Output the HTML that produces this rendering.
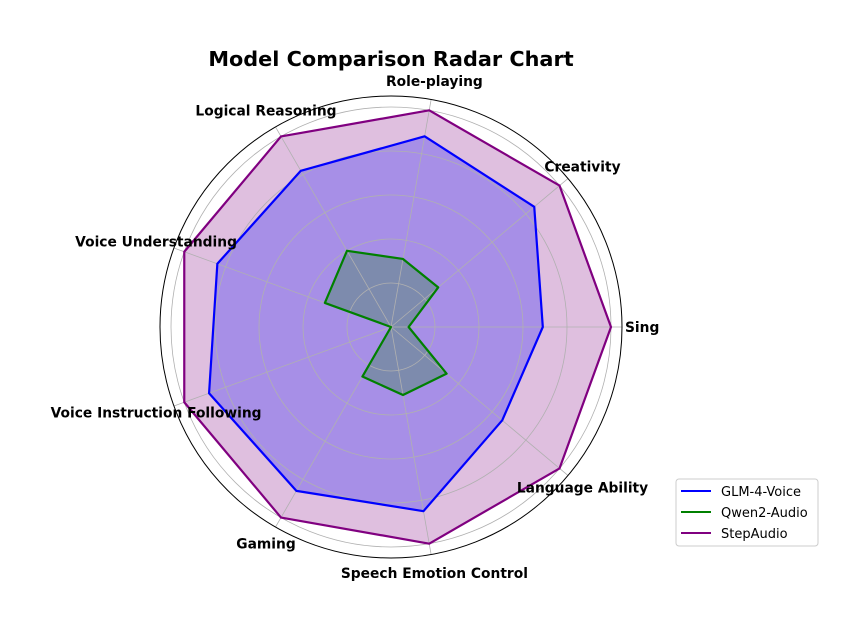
<!DOCTYPE html>
<html><head><meta charset="utf-8"><style>
body{margin:0;background:#fff;}
svg text{font-family:"DejaVu Sans","Liberation Sans",sans-serif;}
</style></head><body>
<svg id="chart" width="867" height="631" xmlns="http://www.w3.org/2000/svg">
<text x="391" y="66" text-anchor="middle" font-size="20.8" font-weight="bold">Model Comparison Radar Chart</text>
<g id="series"></g>
<g id="grid"></g>
<g id="lines"></g>
<g id="labels"></g>
<g>
<rect x="676" y="479" width="142" height="67" rx="3" fill="#fff" stroke="#ccc"/>
<line x1="681" y1="491" x2="711" y2="491" stroke="blue" stroke-width="2"/>
<text x="721" y="496" font-size="13">GLM-4-Voice</text>
<line x1="681" y1="512" x2="711" y2="512" stroke="green" stroke-width="2"/>
<text x="721" y="517" font-size="13">Qwen2-Audio</text>
<line x1="681" y1="533" x2="711" y2="533" stroke="purple" stroke-width="2"/>
<text x="721" y="538" font-size="13">StepAudio</text>
</g>
</svg>
<script>
const categories=["Sing","Creativity","Role-playing","Logical Reasoning","Voice Understanding","Voice Instruction Following","Gaming","Speech Emotion Control","Language Ability"];
const glmValues=[3.45,4.25,4.4,4.1,4.2,4.4,4.3,4.25,3.3];
const qwenValues=[0.4,1.4,1.57,2.0,1.6,0.0,1.3,1.57,1.65];
const stepValues=[5,5,5,5,5,5,5,5,5];
const ringTicks=[1,2,3,4,5];
const maxValue=5.25;

const NS="http://www.w3.org/2000/svg";
const cx=391,cy=327,R=231;
function rScale(v){return v/maxValue*R;}
function ang(i){return i*2*Math.PI/categories.length;}
function pt(i,v){const r=rScale(v),a=ang(i);return [cx+r*Math.cos(a),cy-r*Math.sin(a)];}
function mk(tag,attrs,parent){const e=document.createElementNS(NS,tag);for(const k in attrs)e.setAttribute(k,attrs[k]);parent.appendChild(e);return e;}

const grid=document.getElementById('grid');
ringTicks.forEach(t=>{
  const c=mk('circle',{cx:cx,cy:cy,r:rScale(t),fill:'none',stroke:'#b0b0b0','stroke-width':0.8},grid);
  
  
});
categories.forEach((c,i)=>{
  const p=pt(i,maxValue);
  const l=mk('line',{x1:cx,y1:cy,x2:p[0],y2:p[1],stroke:'#b0b0b0','stroke-width':0.8},grid);
  
  
});
const outer=mk('circle',{cx:cx,cy:cy,r:R,fill:'none',stroke:'#000','stroke-width':1},grid);



const series=document.getElementById('series');
const linesG=document.getElementById('lines');
const defs=[[stepValues,'purple','stepaudio'],[glmValues,'blue','glm-4-voice'],[qwenValues,'green','qwen2-audio']];
defs.forEach(([vals,col,name])=>{
  const pts=vals.map((v,i)=>pt(i,v).join(',')).join(' ');
  const f=mk('polygon',{points:pts,fill:col,'fill-opacity':0.25,stroke:'none'},series);
  
  
});
defs.forEach(([vals,col,name])=>{
  const pts=vals.map((v,i)=>pt(i,v).join(',')).join(' ');
  const l=mk('polygon',{points:pts,fill:'none',stroke:col,'stroke-width':2.2,'stroke-linejoin':'round'},linesG);
  
  
});

const labels=document.getElementById('labels');
categories.forEach((c,i)=>{
  const a=ang(i),r=(i===0)?234:250;
  const x=cx+r*Math.cos(a),y=cy-r*Math.sin(a);
  const t=mk('text',{x:x,y:y+5,'text-anchor':i===0?'start':'middle','font-size':13.8,'font-weight':'bold'},labels);
  t.textContent=c;
  
  
});
</script>
</body></html>
